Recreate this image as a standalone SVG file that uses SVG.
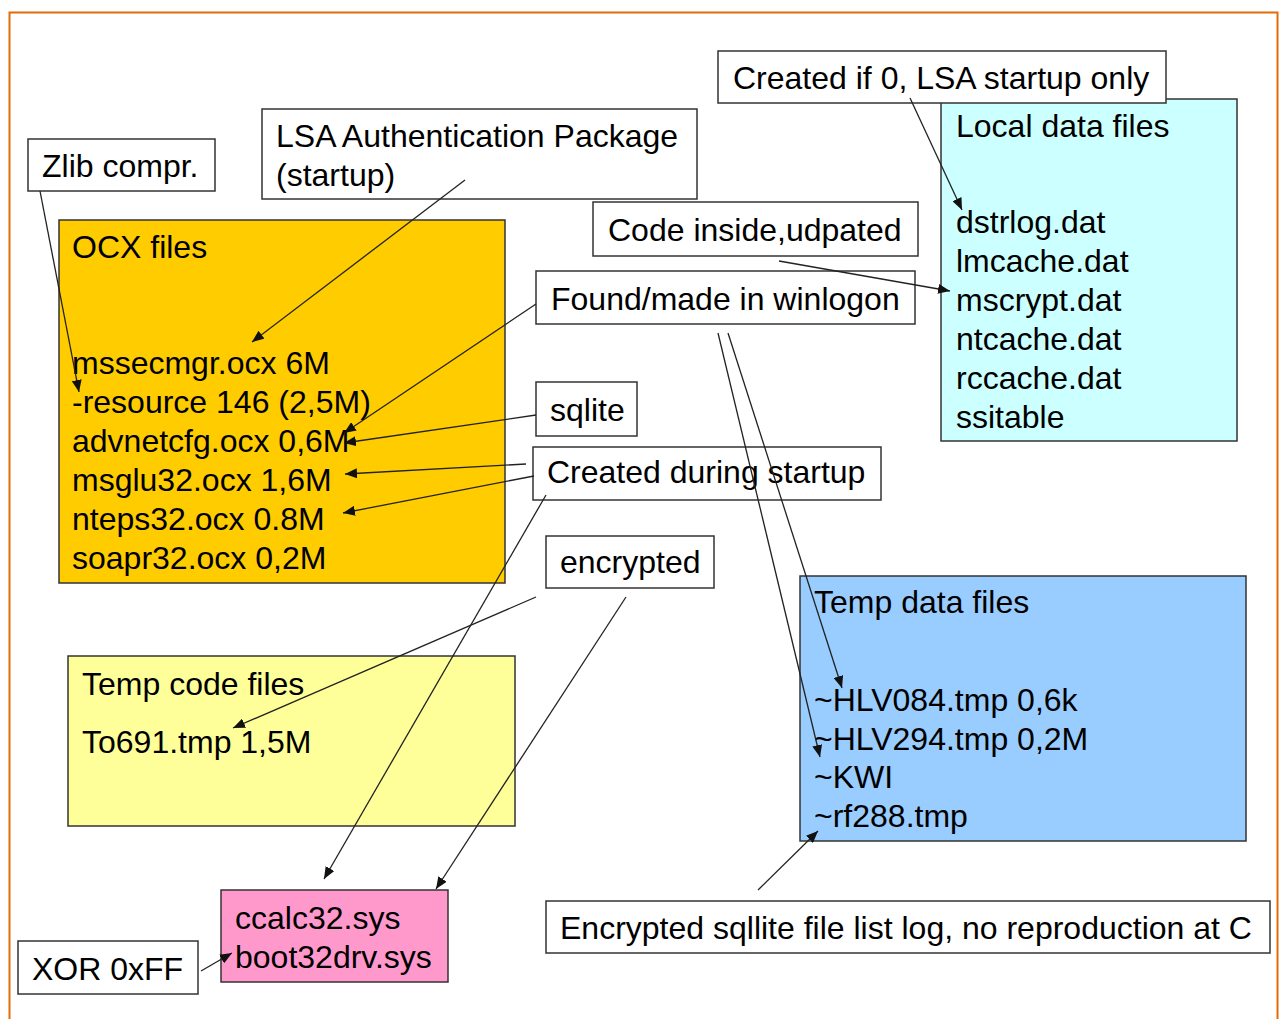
<svg xmlns="http://www.w3.org/2000/svg" width="1281" height="1019" viewBox="0 0 1281 1019">
<defs>
<style>
text{font-family:"Liberation Sans",Arial,sans-serif;font-size:32px;fill:#000}
.box{stroke:#333;stroke-width:1.5}
.w{fill:#fff}
.c{stroke:#222;stroke-width:1.3;fill:none;marker-end:url(#ah)}
</style>
<marker id="ah" markerUnits="userSpaceOnUse" markerWidth="12" markerHeight="10" viewBox="0 0 12 10" refX="12" refY="5" orient="auto">
<path d="M0,0 L12,5 L0,10 z" fill="#111"/>
</marker>
</defs>
<rect x="0" y="0" width="1281" height="1019" fill="#fff"/>
<rect x="9.5" y="12.5" width="1268" height="1020" fill="none" stroke="#E36C0A" stroke-width="2"/>

<g id="ocx"><rect class="box" x="59" y="220" width="446" height="363" fill="#FFCC00"/>
<text x="72" y="258">OCX files</text>
<text x="72" y="374">mssecmgr.ocx 6M</text>
<text x="72" y="413">-resource 146 (2,5M)</text>
<text x="72" y="452">advnetcfg.ocx 0,6M</text>
<text x="72" y="491">msglu32.ocx 1,6M</text>
<text x="72" y="530">nteps32.ocx 0.8M</text>
<text x="72" y="569">soapr32.ocx 0,2M</text></g>

<g id="local"><rect class="box" x="941" y="99" width="296" height="342" fill="#CCFFFF"/>
<text x="956" y="137">Local data files</text>
<text x="956" y="233">dstrlog.dat</text>
<text x="956" y="272">lmcache.dat</text>
<text x="956" y="311">mscrypt.dat</text>
<text x="956" y="350">ntcache.dat</text>
<text x="956" y="389">rccache.dat</text>
<text x="956" y="428">ssitable</text></g>

<g id="createdif0"><rect class="box w" x="718" y="51" width="448" height="52"/>
<text x="733" y="89">Created if 0, LSA startup only</text></g>

<g id="lsa"><rect class="box w" x="262" y="109" width="435" height="90"/>
<text x="276" y="147">LSA Authentication Package</text>
<text x="276" y="186">(startup)</text></g>

<g id="zlib"><rect class="box w" x="28" y="139" width="187" height="52"/>
<text x="42" y="177">Zlib compr.</text></g>

<g id="codeinside"><rect class="box w" x="593" y="202" width="325" height="54"/>
<text x="608" y="241">Code inside,udpated</text></g>

<g id="winlogon"><rect class="box w" x="536" y="271" width="379" height="53"/>
<text x="551" y="310">Found/made in winlogon</text></g>

<g id="sqlite"><rect class="box w" x="536" y="382" width="101" height="54"/>
<text x="550" y="421">sqlite</text></g>

<g id="tempcode"><rect class="box" x="68" y="656" width="447" height="170" fill="#FFFF99"/>
<text x="82" y="695">Temp code files</text>
<text x="82" y="753">To691.tmp 1,5M</text></g>

<g id="tempdata"><rect class="box" x="800" y="576" width="446" height="265" fill="#99CCFF"/>
<text x="814" y="613">Temp data files</text>
<text x="814" y="711">~HLV084.tmp 0,6k</text>
<text x="814" y="750">~HLV294.tmp 0,2M</text>
<text x="814" y="788">~KWI</text>
<text x="814" y="827">~rf288.tmp</text></g>

<g id="startup"><rect class="box w" x="533" y="447" width="348" height="53"/>
<text x="547" y="483">Created during startup</text></g>

<g id="encrypted"><rect class="box w" x="546" y="536" width="168" height="52"/>
<text x="560" y="573">encrypted</text></g>

<g id="sys"><rect class="box" x="221" y="890" width="227" height="92" fill="#FF99CC"/>
<text x="235" y="929">ccalc32.sys</text>
<text x="235" y="968">boot32drv.sys</text></g>

<g id="xor"><rect class="box w" x="18" y="941" width="180" height="53"/>
<text x="32" y="980">XOR 0xFF</text></g>

<g id="sqllitelog"><rect class="box w" x="546" y="901" width="724" height="52"/>
<text x="560" y="939">Encrypted sqllite file list log, no reproduction at C</text></g>

<g id="connectors">
<line class="c" x1="40" y1="191" x2="79" y2="392"/>
<line class="c" x1="465" y1="180" x2="252" y2="342"/>
<line class="c" x1="536" y1="304" x2="344" y2="433"/>
<line class="c" x1="536" y1="415" x2="344" y2="443"/>
<line class="c" x1="526" y1="464" x2="345" y2="474"/>
<line class="c" x1="534" y1="476" x2="343" y2="513"/>
<line class="c" x1="546" y1="495" x2="324" y2="879"/>
<line class="c" x1="536" y1="597" x2="233" y2="728"/>
<line class="c" x1="626" y1="597" x2="436" y2="889"/>
<line class="c" x1="910" y1="98" x2="962" y2="210"/>
<line class="c" x1="779" y1="261" x2="950" y2="291"/>
<line class="c" x1="728" y1="333" x2="842" y2="688"/>
<line class="c" x1="718" y1="333" x2="820" y2="757"/>
<line class="c" x1="758" y1="890" x2="818" y2="831"/>
<line class="c" x1="201" y1="971" x2="232" y2="953"/>
</g>
</svg>
